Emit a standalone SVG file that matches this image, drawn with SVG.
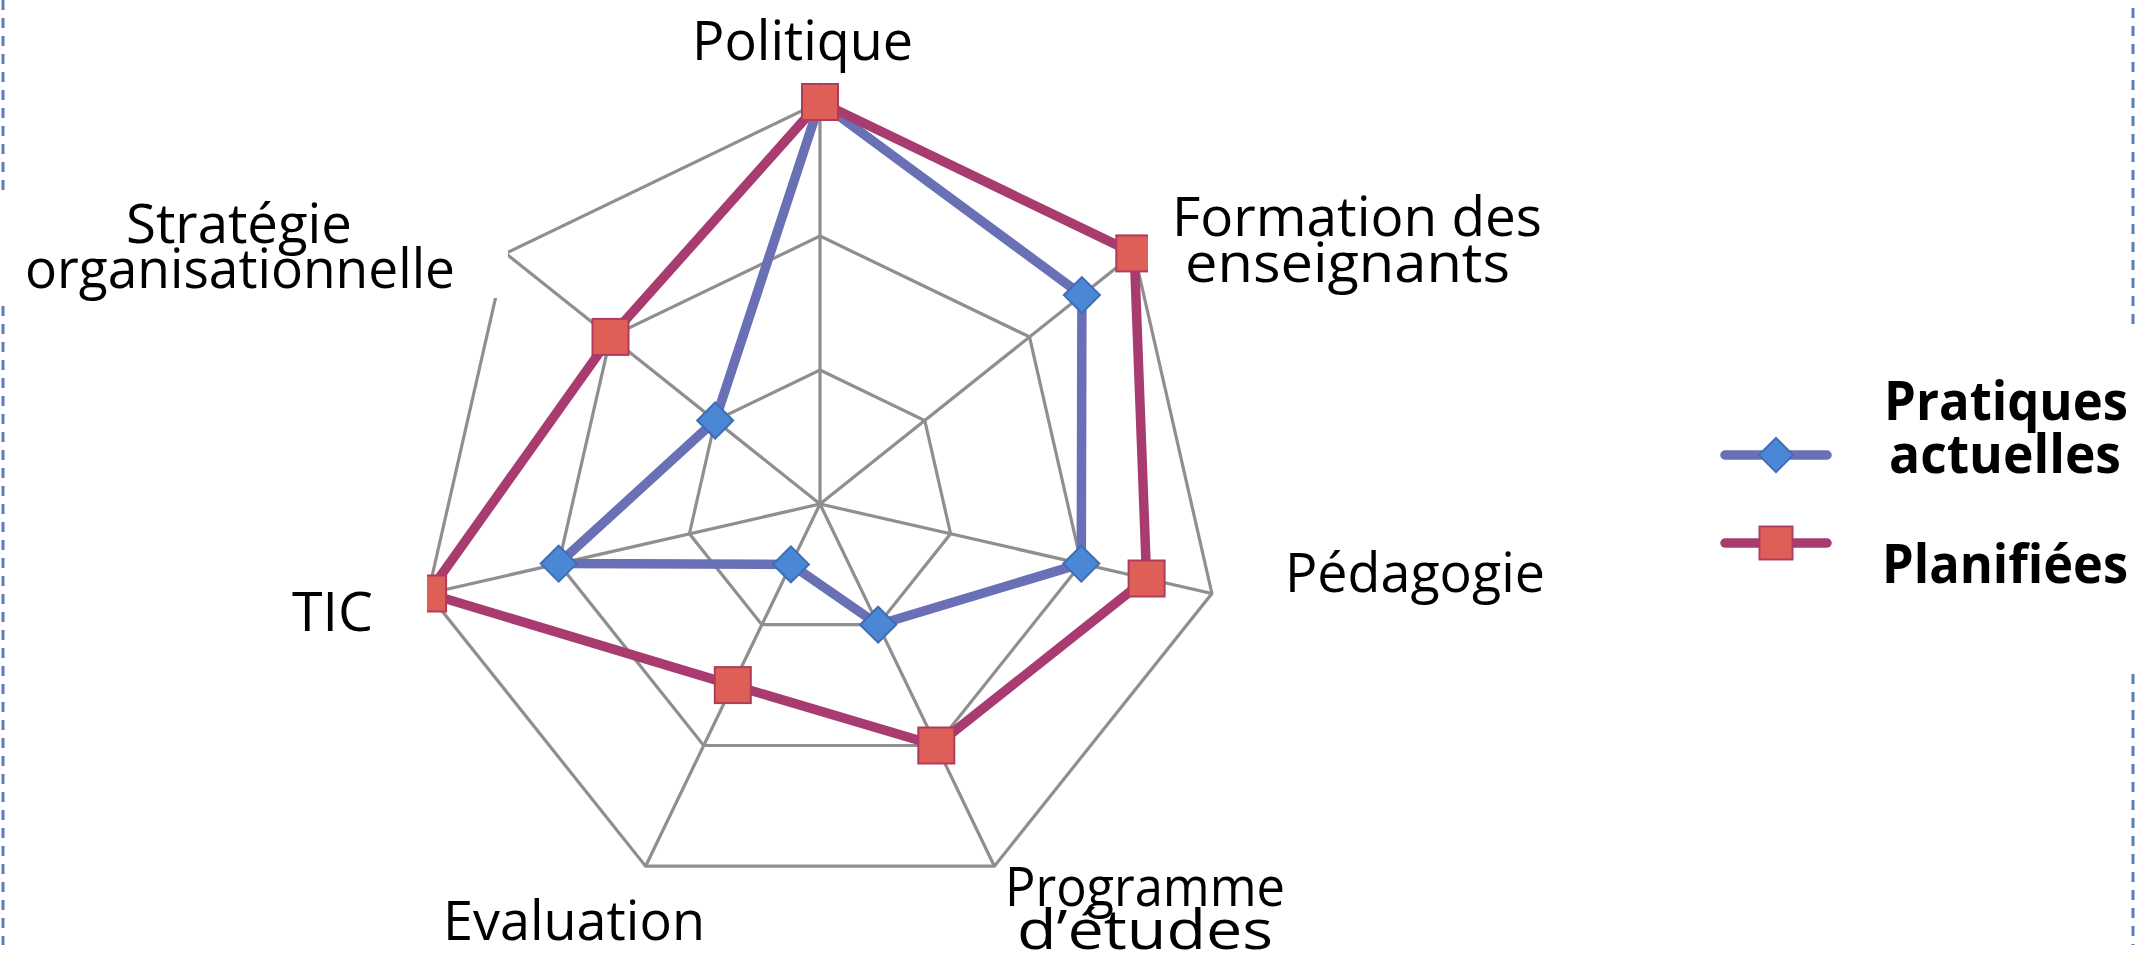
<svg xmlns="http://www.w3.org/2000/svg" xmlns:xlink="http://www.w3.org/1999/xlink" width="2141" height="962" viewBox="0 0 2141 962">
<style>
.frame{stroke:#5a80bb;stroke-width:3;stroke-dasharray:10 8;fill:none}
.grid{fill:none;stroke:#8f8f8f;stroke-width:3.2;stroke-linejoin:miter}
.blue{fill:none;stroke:#6a70b6;stroke-width:9.5;stroke-linejoin:round;stroke-linecap:round}
.red{fill:none;stroke:#a83b70;stroke-width:9.5;stroke-linejoin:round;stroke-linecap:round}
.mask{fill:#ffffff;stroke:none}
.lbl{font-family:"Open Sans","Noto Sans",sans-serif;font-size:54px;fill:#000}
.leg{font-family:"Open Sans","Noto Sans",sans-serif;font-size:53px;font-weight:bold;fill:#000}
</style>
<defs>
<path id="dia" d="M0,-18 L18,0 L0,18 L-18,0 Z" fill="#4a88d6" stroke="#3f6cb5" stroke-width="2"/>
<rect id="sq" x="-18" y="-18" width="36" height="36" fill="#dd5f57" stroke="#b03c5c" stroke-width="2"/>
</defs>
<rect width="2141" height="962" fill="#ffffff"/>
<g id="frame">
<line class="frame" x1="3" y1="0" x2="3" y2="945"/>
<line class="frame" x1="2133" y1="8" x2="2133" y2="945"/>
</g>
<g id="connectors">
<g id="grid">
<polygon class="grid" points="820,370 924.8,420.5 950.6,533.8 878.1,624.7 761.9,624.7 689.4,533.8 715.2,420.5"/>
<polygon class="grid" points="820,236 1029.5,336.9 1081.3,563.6 936.3,745.5 703.7,745.5 558.7,563.6 610.5,336.9"/>
<polygon class="grid" points="820,102 1134.3,253.4 1211.9,593.5 994.4,866.2 645.6,866.2 428.1,593.5 505.7,253.4"/>
<path class="grid" d="M820,504 L820,102 M820,504 L1134.3,253.4 M820,504 L1211.9,593.5 M820,504 L994.4,866.2 M820,504 L645.6,866.2 M820,504 L428.1,593.5 M820,504 L505.7,253.4"/>
</g>
<g id="series-actuelles">
<polygon class="blue" points="820,102 1081.9,295.1 1081.3,563.6 878.1,624.7 790.9,564.4 558.7,563.6 715.2,420.5"/>
<use xlink:href="#dia" href="#dia" transform="translate(820,102)"/>
<use xlink:href="#dia" href="#dia" transform="translate(1081.9,295.1)"/>
<use xlink:href="#dia" href="#dia" transform="translate(1081.3,563.6)"/>
<use xlink:href="#dia" href="#dia" transform="translate(878.1,624.7)"/>
<use xlink:href="#dia" href="#dia" transform="translate(790.9,564.4)"/>
<use xlink:href="#dia" href="#dia" transform="translate(558.7,563.6)"/>
<use xlink:href="#dia" href="#dia" transform="translate(715.2,420.5)"/>
</g>
<g id="series-planifiees">
<polygon class="red" points="820,102 1134.3,253.4 1146.6,578.5 936.3,745.5 732.8,685.1 428.1,593.5 610.5,336.9"/>
<use xlink:href="#sq" href="#sq" transform="translate(820,102)"/>
<use xlink:href="#sq" href="#sq" transform="translate(1134.3,253.4)"/>
<use xlink:href="#sq" href="#sq" transform="translate(1146.6,578.5)"/>
<use xlink:href="#sq" href="#sq" transform="translate(936.3,745.5)"/>
<use xlink:href="#sq" href="#sq" transform="translate(732.8,685.1)"/>
<use xlink:href="#sq" href="#sq" transform="translate(428.1,593.5)"/>
<use xlink:href="#sq" href="#sq" transform="translate(610.5,336.9)"/>
</g>
</g>
<g id="label-politique">
<text class="lbl" x="692" y="60" textLength="221" lengthAdjust="spacingAndGlyphs">Politique</text>
</g>
<g id="label-formation">
<polygon class="mask" points="1148,192 1568,192 1568,322 1176,322 1176,298 1148,298"/>
<text class="lbl" x="1172" y="236" textLength="370" lengthAdjust="spacingAndGlyphs">Formation des</text>
<text class="lbl" x="1185" y="282" textLength="325" lengthAdjust="spacingAndGlyphs">enseignants</text>
</g>
<g id="label-pedagogie">
<text class="lbl" x="1285" y="592" textLength="260" lengthAdjust="spacingAndGlyphs">Pédagogie</text>
</g>
<g id="label-programme">
<text class="lbl" x="1005" y="906" textLength="280" lengthAdjust="spacingAndGlyphs">Programme</text>
<text class="lbl" x="1017" y="949" textLength="256" lengthAdjust="spacingAndGlyphs">d’études</text>
</g>
<g id="label-evaluation">
<text class="lbl" x="443" y="940" textLength="262" lengthAdjust="spacingAndGlyphs">Evaluation</text>
</g>
<g id="label-tic">
<rect class="mask" x="280" y="562" width="147" height="88"/>
<text class="lbl" x="292" y="631" textLength="81" lengthAdjust="spacingAndGlyphs">TIC</text>
</g>
<g id="label-strategie">
<rect class="mask" x="0" y="198" width="508" height="100"/>
<text class="lbl" x="126" y="243" textLength="226" lengthAdjust="spacingAndGlyphs">Stratégie</text>
<text class="lbl" x="25" y="288" textLength="430" lengthAdjust="spacingAndGlyphs">organisationnelle</text>
</g>
<g id="legend">
<rect class="mask" x="1700" y="325" width="441" height="345"/>
<g id="legend-actuelles">
<line class="blue" x1="1725" y1="455" x2="1827" y2="455"/>
<use xlink:href="#dia" href="#dia" transform="translate(1776,455) scale(0.95)"/>
<text class="leg" x="1884" y="420" textLength="244" lengthAdjust="spacingAndGlyphs">Pratiques</text>
<text class="leg" x="1889" y="473" textLength="232" lengthAdjust="spacingAndGlyphs">actuelles</text>
</g>
<g id="legend-planifiees">
<line class="red" x1="1725" y1="543" x2="1827" y2="543"/>
<use xlink:href="#sq" href="#sq" transform="translate(1776,543) scale(0.92)"/>
<text class="leg" x="1882" y="583" textLength="246" lengthAdjust="spacingAndGlyphs">Planifiées</text>
</g>
</g>
</svg>
